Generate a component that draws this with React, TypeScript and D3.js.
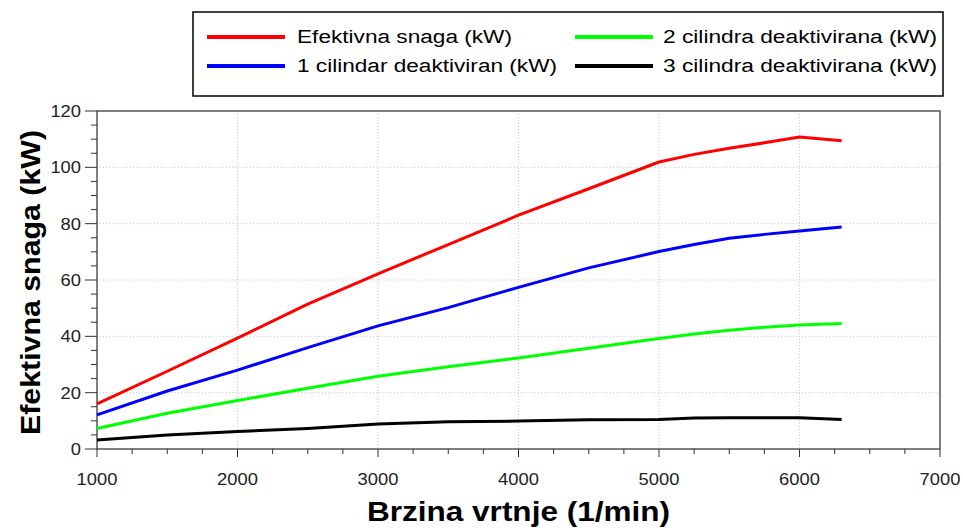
import React from "react";
import * as d3 from "d3";

const rpm = [1000, 1500, 2000, 2500, 3000, 3500, 4000, 4500, 5000, 5250, 5500, 5750, 6000, 6300];
const efektivna = [16, 27.6, 39.4, 51.4, 62.2, 72.6, 83, 92.4, 101.9, 104.6, 106.8, 108.7, 110.8, 109.4];
const cil1 = [12.1, 20.6, 28, 36, 43.7, 50.2, 57.4, 64.3, 70.1, 72.6, 74.8, 76.2, 77.4, 78.8];
const cil2 = [7.3, 12.7, 17.2, 21.6, 25.8, 29.2, 32.3, 35.8, 39.2, 40.8, 42.2, 43.2, 44, 44.6];
const cil3 = [3.2, 5, 6.2, 7.3, 8.9, 9.7, 9.9, 10.4, 10.5, 11.0, 11.1, 11.1, 11.1, 10.5];

const seriesNames = [
  "Efektivna snaga (kW)",
  "1 cilindar deaktiviran (kW)",
  "2 cilindra deaktivirana (kW)",
  "3 cilindra deaktivirana (kW)",
];
const seriesValues = [efektivna, cil1, cil2, cil3];
const seriesColors = ["#ff0000", "#0000ff", "#00ff00", "#000000"];

const xTicks = [1000, 2000, 3000, 4000, 5000, 6000, 7000];
const yTicks = [0, 20, 40, 60, 80, 100, 120];

const W = 963;
const H = 528;
const left = 97;
const right = 940;
const top = 111;
const bottom = 449;

export default function App() {
  const x = d3.scaleLinear().domain([1000, 7000]).range([left, right]);
  const y = d3.scaleLinear().domain([0, 120]).range([bottom, top]);
  const line = d3
    .line<number>()
    .x((_, i) => x(rpm[i]))
    .y((d) => y(d))
    .curve(d3.curveLinear);

  const xMinor = d3.range(1000, 7001, 250);
  const yMinor = d3.range(0, 121, 5);
  const font = "Arial, 'Liberation Sans', sans-serif";

  const legendItems = [
    { i: 0, lx: 207, ty: 37, tx: 297, len: 215 },
    { i: 1, lx: 207, ty: 66, tx: 297, len: 260 },
    { i: 2, lx: 575, ty: 37, tx: 663, len: 274 },
    { i: 3, lx: 575, ty: 66, tx: 663, len: 274 },
  ];
  const labelLen = (t: number) => String(t).length * 10.2;

  return (
    <svg
      width={W}
      height={H}
      style={{ position: "absolute", left: 0, top: 0, background: "#fff" }}
      fontFamily={font}
    >
      {xTicks.slice(1, -1).map((t) => (
        <line key={"gx" + t} x1={x(t)} x2={x(t)} y1={top} y2={bottom} stroke="#c8c8c8" strokeDasharray="1,2" />
      ))}
      {yTicks.slice(1, -1).map((t) => (
        <line key={"gy" + t} x1={left} x2={right} y1={y(t)} y2={y(t)} stroke="#c8c8c8" strokeDasharray="1,2" />
      ))}
      <rect x={left} y={top} width={right - left} height={bottom - top} fill="none" stroke="#555" strokeWidth={1.5} />
      {xMinor.map((t) => (
        <line key={"xt" + t} x1={x(t)} x2={x(t)} y1={bottom} y2={bottom + (t % 1000 === 0 ? 8 : 5)} stroke="#333" strokeWidth={1} />
      ))}
      {xTicks.map((t) => (
        <text
          key={"xl" + t}
          x={x(t) - labelLen(t) / 2}
          y={485}
          fontSize={17}
          fill="#222"
          textLength={labelLen(t)}
          lengthAdjust="spacingAndGlyphs"
        >
          {t}
        </text>
      ))}
      {yMinor.map((t) => (
        <line key={"yt" + t} x1={left - (t % 20 === 0 ? 12 : 6)} x2={left} y1={y(t)} y2={y(t)} stroke="#333" strokeWidth={1} />
      ))}
      {yTicks.map((t) => (
        <text
          key={"yl" + t}
          x={81 - labelLen(t)}
          y={y(t) + 6}
          fontSize={17}
          fill="#222"
          textLength={labelLen(t)}
          lengthAdjust="spacingAndGlyphs"
        >
          {t}
        </text>
      ))}
      {seriesValues.map((vals, i) => (
        <path key={"s" + i} d={line(vals) || ""} fill="none" stroke={seriesColors[i]} strokeWidth={3} strokeLinejoin="round" />
      ))}
      <text
        x={367}
        y={521}
        fontSize={28}
        fontWeight="bold"
        fill="#000"
        textLength={303}
        lengthAdjust="spacingAndGlyphs"
      >
        Brzina vrtnje (1/min)
      </text>
      <text
        transform={`translate(40,435) rotate(-90)`}
        fontSize={28}
        fontWeight="bold"
        fill="#000"
        textLength={305}
        lengthAdjust="spacingAndGlyphs"
      >
        Efektivna snaga (kW)
      </text>
      <rect x={193} y={12} width={750} height={84} fill="#fff" stroke="#000" strokeWidth={1.5} />
      {legendItems.map(({ i, lx, ty, tx, len }) => (
        <g key={"lg" + i}>
          <line x1={lx} x2={lx + 78} y1={ty} y2={ty} stroke={seriesColors[i]} strokeWidth={4} />
          <text
            x={tx}
            y={ty + 6}
            fontSize={18}
            fill="#000"
            textLength={len}
            lengthAdjust="spacingAndGlyphs"
          >
            {seriesNames[i]}
          </text>
        </g>
      ))}
    </svg>
  );
}
